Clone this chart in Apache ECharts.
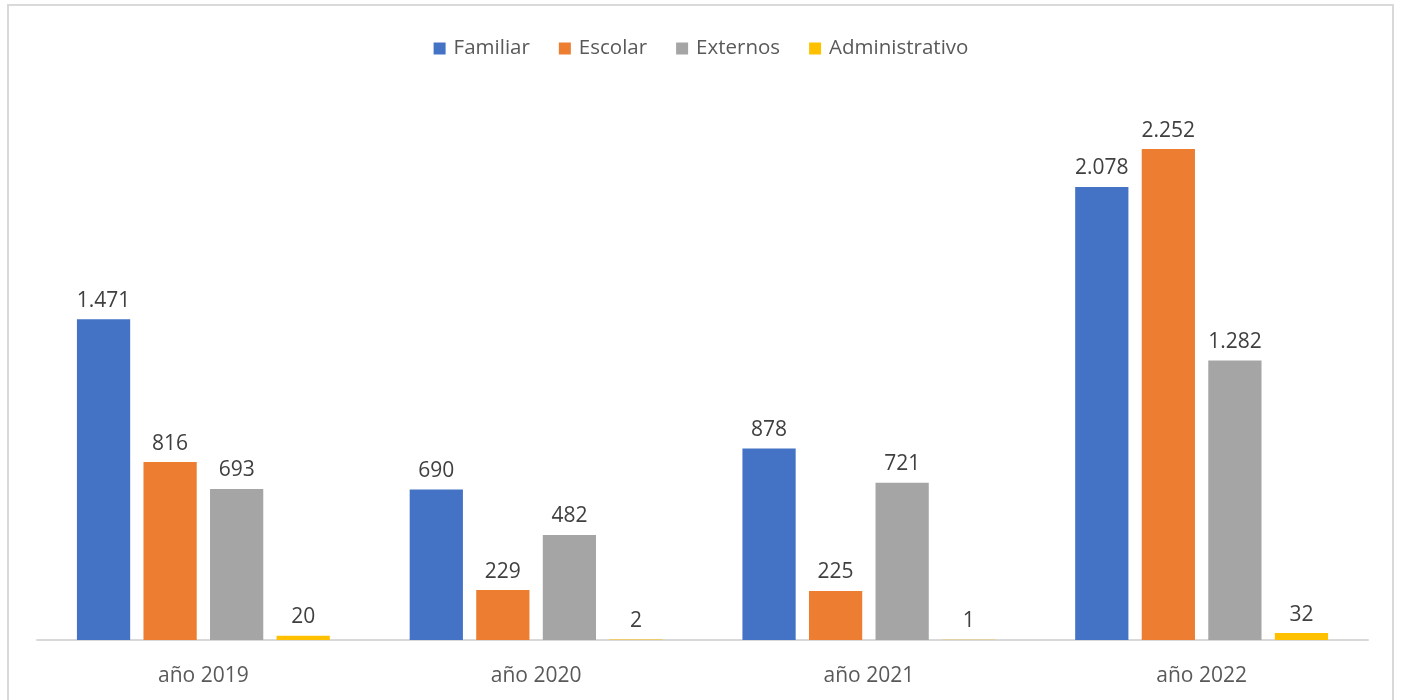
<!DOCTYPE html>
<html>
<head>
<meta charset="utf-8">
<script src="https://cdn.jsdelivr.net/npm/echarts@6/dist/echarts.min.js"></script>
<style>
html,body{margin:0;padding:0;background:#fff;}
#frame{position:absolute;left:7px;top:4px;width:1387px;height:720px;border:2px solid #d9d9d9;box-sizing:border-box;}
#chart{position:absolute;left:0;top:0;width:1402px;height:700px;}
</style>
</head>
<body>
<div id="frame"></div>
<div id="chart"></div>
<script>
const categories = ['año 2019', 'año 2020', 'año 2021', 'año 2022'];
const seriesNames = ['Familiar', 'Escolar', 'Externos', 'Administrativo'];
const familiar = [1471, 690, 878, 2078];
const escolar = [816, 229, 225, 2252];
const externos = [693, 482, 721, 1282];
const administrativo = [20, 2, 1, 32];
const colors = ['#4472c4', '#ed7d31', '#a5a5a5', '#ffc000'];

const fontFamily = '"Open Sans", "Noto Sans", sans-serif';
function fmt(v) {
  return String(v).replace(/\B(?=(\d{3})+(?!\d))/g, '.');
}
const values = [familiar, escolar, externos, administrativo];
const chart = echarts.init(document.getElementById('chart'));
chart.setOption({
  animation: false,
  color: colors,
  textStyle: { fontFamily: fontFamily },
  legend: {
    top: 33,
    left: 'center',
    itemWidth: 12,
    itemHeight: 12,
    itemGap: 29,
    icon: 'rect',
    textStyle: { fontSize: 20.5, color: '#595959', fontFamily: fontFamily, padding: [0, 0, 0, 3] },
    data: seriesNames
  },
  grid: { left: 37, right: 34, top: 95, bottom: 60, containLabel: false },
  xAxis: {
    type: 'category',
    data: categories,
    axisLine: { lineStyle: { color: '#d9d9d9', width: 2 } },
    axisTick: { show: false },
    axisLabel: { fontSize: 21, color: '#595959', margin: 26, fontFamily: fontFamily }
  },
  yAxis: {
    type: 'value',
    min: 0,
    max: 2500,
    show: false,
    splitLine: { show: false }
  },
  series: seriesNames.map((name, i) => ({
    name: name,
    type: 'bar',
    data: values[i],
    barGap: '25%',
    barCategoryGap: '24%',
    itemStyle: { color: colors[i] },
    label: {
      show: true,
      position: 'top',
      distance: 8,
      fontSize: 21,
      color: '#404040',
      fontFamily: fontFamily,
      formatter: p => fmt(p.value)
    }
  }))
});
</script>
</body>
</html>
